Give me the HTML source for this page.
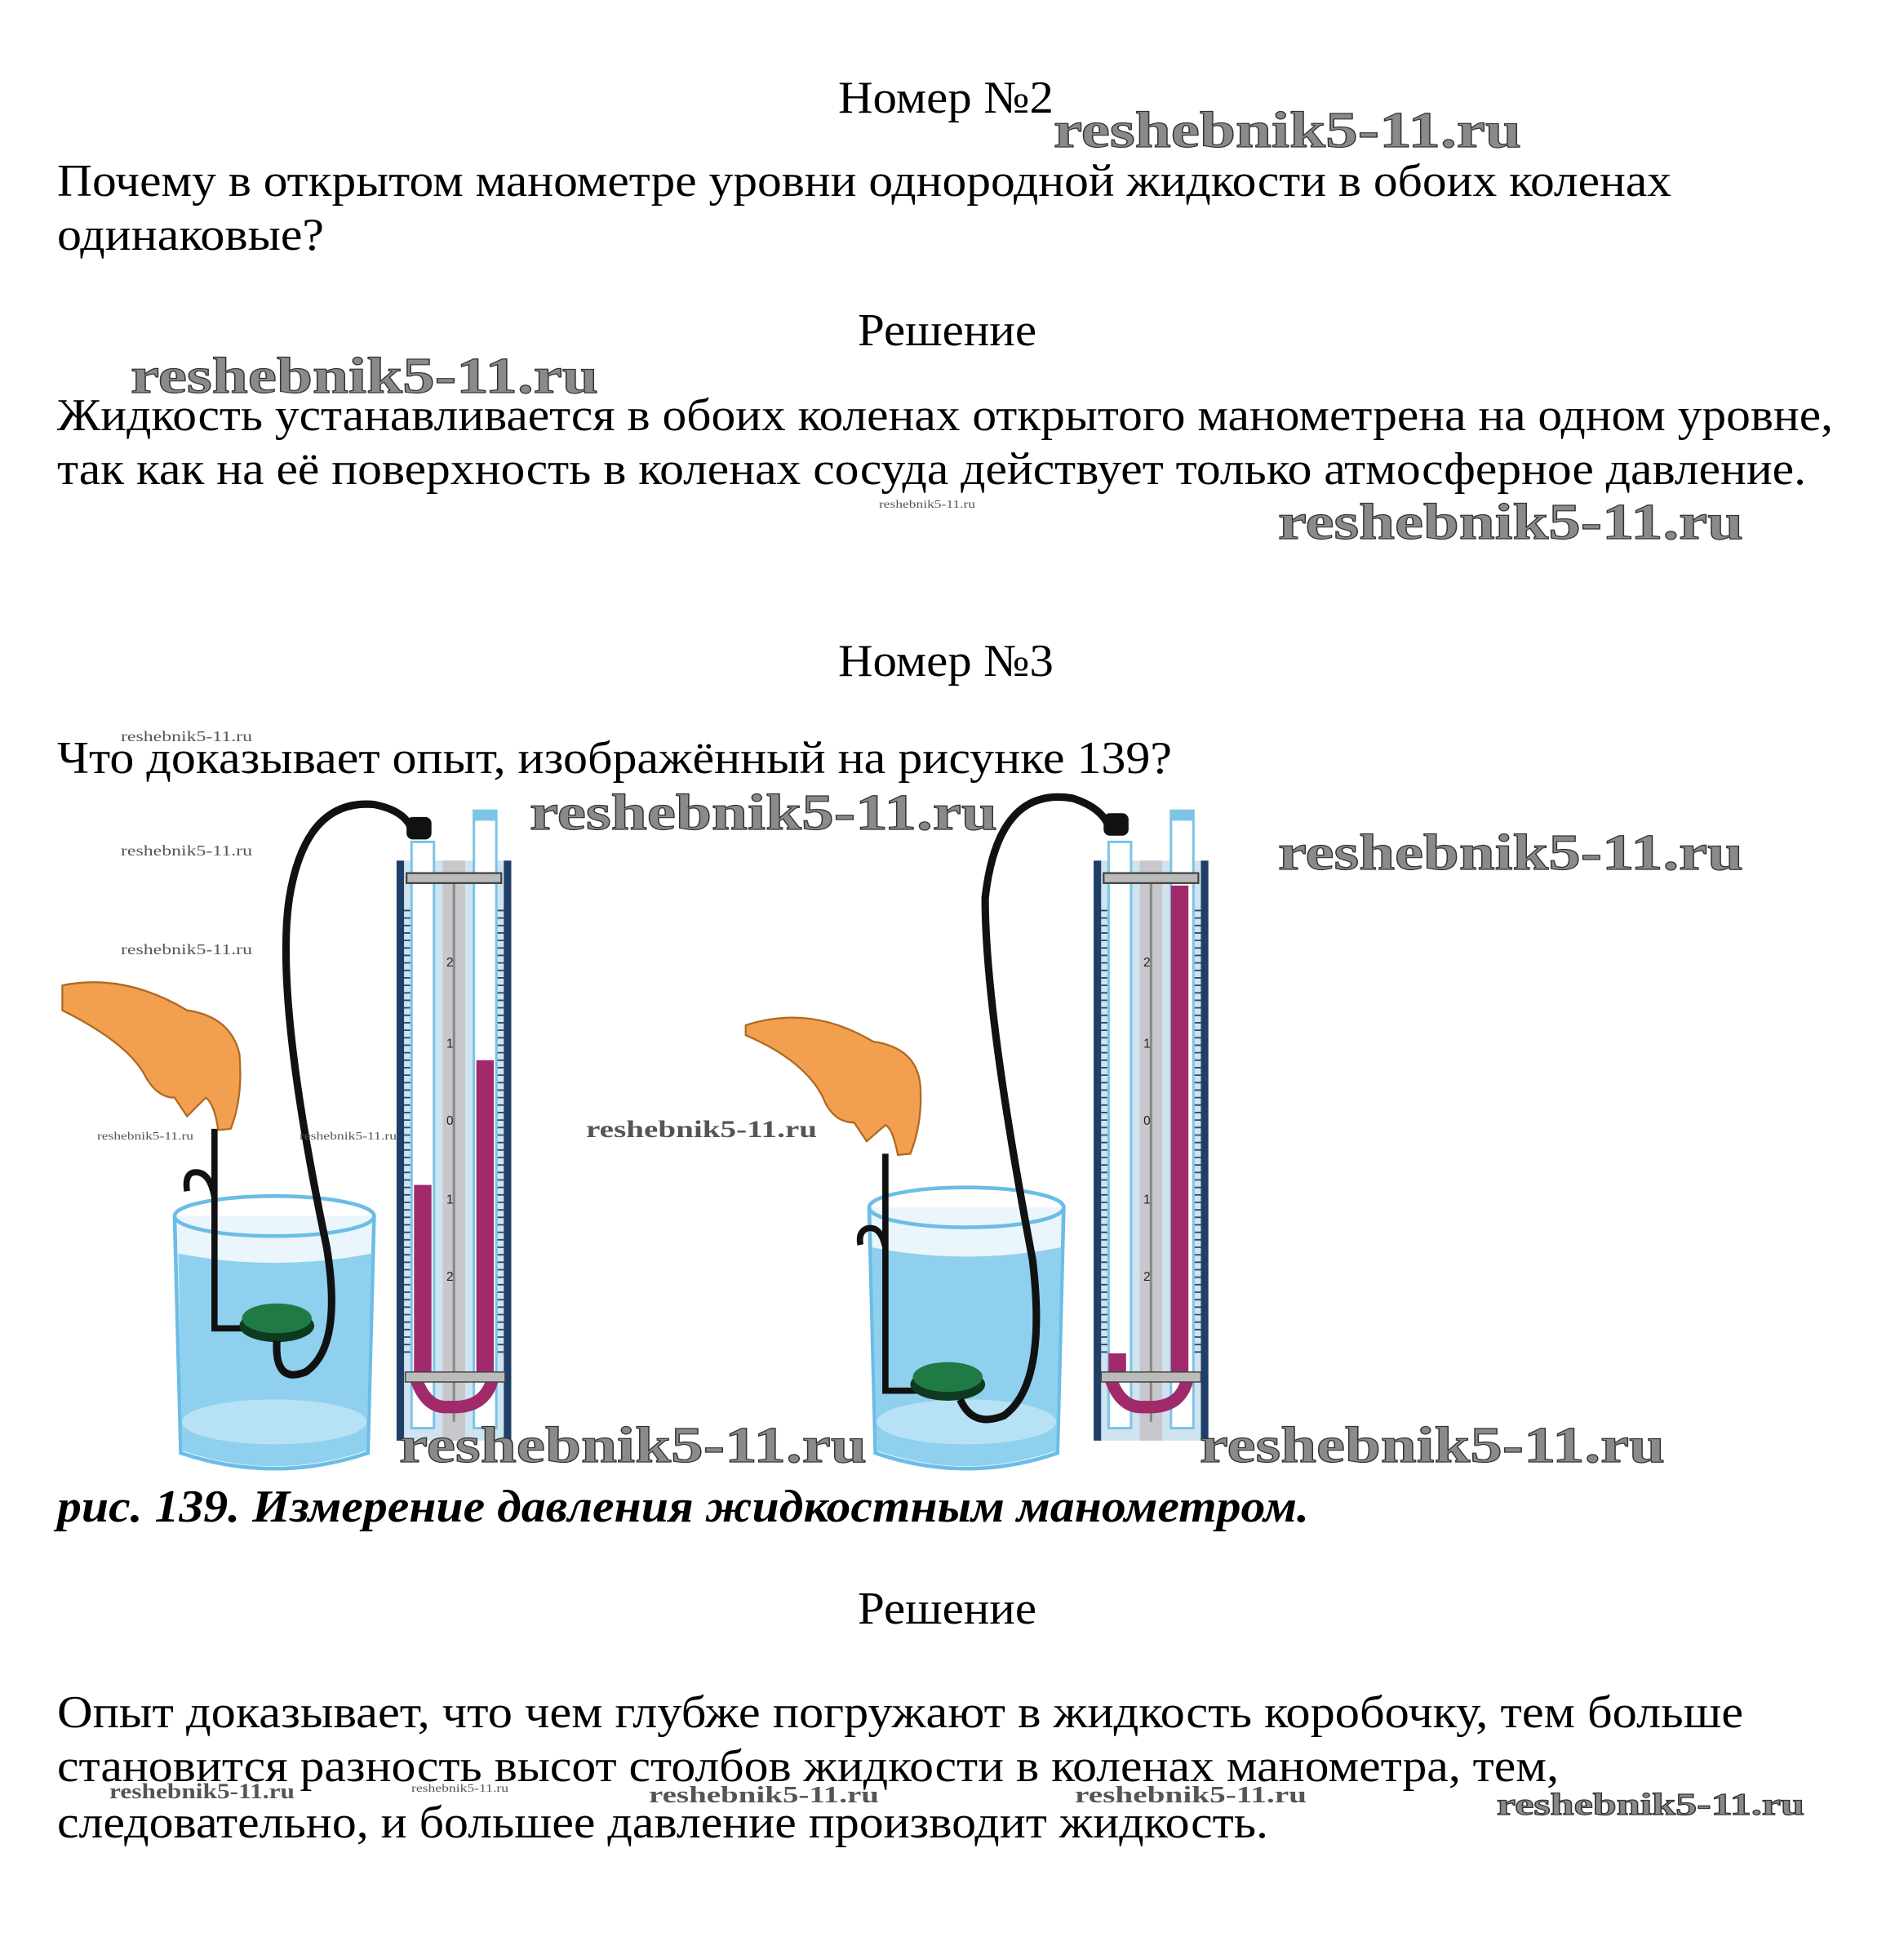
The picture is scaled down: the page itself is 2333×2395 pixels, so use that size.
<!DOCTYPE html>
<html><head><meta charset="utf-8"><style>
html,body{margin:0;padding:0;background:#fff;}
svg{display:block;}
.t{font-family:"Liberation Serif",serif;font-size:56px;fill:#000;}
.w{font-family:"Liberation Serif",serif;font-weight:bold;fill:#8a8a8a;stroke:#333;stroke-width:1.2;}
.ws{font-family:"Liberation Serif",serif;fill:#555;}
</style></head><body>
<svg width="2333" height="2395" viewBox="0 0 2333 2395" xmlns="http://www.w3.org/2000/svg">
<rect width="2333" height="2395" fill="#fff"/>
<!-- text -->
<text class="t" x="1027" y="138" textLength="264" lengthAdjust="spacingAndGlyphs">Номер №2</text>
<text class="t" x="70" y="240" textLength="1978" lengthAdjust="spacingAndGlyphs">Почему в открытом манометре уровни однородной жидкости в обоих коленах</text>
<text class="t" x="70" y="306" textLength="327" lengthAdjust="spacingAndGlyphs">одинаковые?</text>
<text class="t" x="1051" y="423" textLength="219" lengthAdjust="spacingAndGlyphs">Решение</text>
<text class="t" x="70" y="527" textLength="2176" lengthAdjust="spacingAndGlyphs">Жидкость устанавливается в обоих коленах открытого манометрена на одном уровне,</text>
<text class="t" x="70" y="593" textLength="2143" lengthAdjust="spacingAndGlyphs">так как на её поверхность в коленах сосуда действует только атмосферное давление.</text>
<text class="t" x="1027" y="828" textLength="264" lengthAdjust="spacingAndGlyphs">Номер №3</text>
<text class="t" x="70" y="947" textLength="1366" lengthAdjust="spacingAndGlyphs">Что доказывает опыт, изображённый на рисунке 139?</text>
<text class="t" x="70" y="1864" textLength="1534" lengthAdjust="spacingAndGlyphs" font-style="italic" font-weight="bold">рис. 139. Измерение давления жидкостным манометром.</text>
<text class="t" x="1051" y="1989" textLength="219" lengthAdjust="spacingAndGlyphs">Решение</text>
<text class="t" x="70" y="2116" textLength="2066" lengthAdjust="spacingAndGlyphs">Опыт доказывает, что чем глубже погружают в жидкость коробочку, тем больше</text>
<text class="t" x="70" y="2182" textLength="1840" lengthAdjust="spacingAndGlyphs">становится разность высот столбов жидкости в коленах манометра, тем,</text>
<text class="t" x="70" y="2251" textLength="1484" lengthAdjust="spacingAndGlyphs">следовательно, и большее давление производит жидкость.</text>

<!-- figure, drawn in display coords scaled -->
<g transform="scale(1.528)">
 <defs>
  <g id="mano">
   <!-- panel -->
   <rect x="0" y="20" width="92" height="465" fill="#cfe3f0"/>
   <rect x="0" y="20" width="6" height="465" fill="#1f3f66"/>
   <rect x="86" y="20" width="6" height="465" fill="#1f3f66"/>
   <rect x="37" y="20" width="18" height="465" fill="#c8c8cc"/>
   <line x1="46" y1="30" x2="46" y2="470" stroke="#888" stroke-width="2"/>
   <rect x="12" y="5" width="18" height="470" fill="#fff" stroke="#7cc4e6" stroke-width="2"/>
   <rect x="62" y="-20" width="18" height="495" fill="#fff" stroke="#7cc4e6" stroke-width="2"/>
   <rect x="62" y="-20" width="18" height="8" fill="#7cc4e6"/>
   <rect x="8" y="30" width="76" height="8" fill="#bbb" stroke="#444" stroke-width="1.5"/>
   <g stroke="#2a4a70" stroke-width="1.2">
    <path d="M6 60 h5 M6 66 h5 M6 72 h5 M6 78 h5 M6 84 h5 M6 90 h5 M6 96 h5 M6 102 h5 M6 108 h5 M6 114 h5 M6 120 h5 M6 126 h5 M6 132 h5 M6 138 h5 M6 144 h5 M6 150 h5 M6 156 h5 M6 162 h5 M6 168 h5 M6 174 h5 M6 180 h5 M6 186 h5 M6 192 h5 M6 198 h5 M6 204 h5 M6 210 h5 M6 216 h5 M6 222 h5 M6 228 h5 M6 234 h5 M6 240 h5 M6 246 h5 M6 252 h5 M6 258 h5 M6 264 h5 M6 270 h5 M6 276 h5 M6 282 h5 M6 288 h5 M6 294 h5 M6 300 h5 M6 306 h5 M6 312 h5 M6 318 h5 M6 324 h5 M6 330 h5 M6 336 h5 M6 342 h5 M6 348 h5 M6 354 h5 M6 360 h5 M6 366 h5 M6 372 h5 M6 378 h5 M6 384 h5 M6 390 h5 M6 396 h5 M6 402 h5 M6 408 h5 M6 414 h5"/>
    <path d="M81 60 h5 M81 66 h5 M81 72 h5 M81 78 h5 M81 84 h5 M81 90 h5 M81 96 h5 M81 102 h5 M81 108 h5 M81 114 h5 M81 120 h5 M81 126 h5 M81 132 h5 M81 138 h5 M81 144 h5 M81 150 h5 M81 156 h5 M81 162 h5 M81 168 h5 M81 174 h5 M81 180 h5 M81 186 h5 M81 192 h5 M81 198 h5 M81 204 h5 M81 210 h5 M81 216 h5 M81 222 h5 M81 228 h5 M81 234 h5 M81 240 h5 M81 246 h5 M81 252 h5 M81 258 h5 M81 264 h5 M81 270 h5 M81 276 h5 M81 282 h5 M81 288 h5 M81 294 h5 M81 300 h5 M81 306 h5 M81 312 h5 M81 318 h5 M81 324 h5 M81 330 h5 M81 336 h5 M81 342 h5 M81 348 h5 M81 354 h5 M81 360 h5 M81 366 h5 M81 372 h5 M81 378 h5 M81 384 h5 M81 390 h5 M81 396 h5 M81 402 h5 M81 408 h5 M81 414 h5"/>
   </g>
   <g font-family="Liberation Sans,sans-serif" font-size="10" fill="#222">
    <text x="40" y="105">2</text><text x="40" y="170">1</text><text x="40" y="232">0</text><text x="40" y="295">1</text><text x="40" y="357">2</text>
   </g>
  </g>
 </defs>

 <!-- LEFT SETUP -->
 <!-- beaker -->
 <path d="M140 975 L145 1165 Q220 1190 295 1165 L300 975" fill="#eaf6fc" stroke="#6bbde6" stroke-width="3"/>
 <path d="M143 1005 L146 1163 Q220 1188 294 1163 L298 1005 Q220 1020 143 1005Z" fill="#8fd0ee"/>
 <ellipse cx="220" cy="1140" rx="74" ry="18" fill="#b7e2f5"/>
 <ellipse cx="220" cy="975" rx="80" ry="16" fill="none" stroke="#6bbde6" stroke-width="3"/>
 <!-- hook tube -->
 <path d="M172 905 V1065 H200 M172 960 Q168 938 155 940 Q148 942 150 955" fill="none" stroke="#111" stroke-width="5"/>
 <!-- disc -->
 <ellipse cx="222" cy="1063" rx="30" ry="13" fill="#0e3a20"/>
 <ellipse cx="222" cy="1057" rx="28" ry="12" fill="#1f7a45"/>
 <!-- hose -->
 <path d="M222 1075 Q220 1110 245 1100 Q275 1080 262 1000 Q220 800 232 720 Q245 640 300 645 Q325 650 330 665" fill="none" stroke="#111" stroke-width="6"/>
 <rect x="326" y="655" width="20" height="18" rx="5" fill="#111"/>
 <use href="#mano" transform="translate(318,670)"/>
 <rect x="332" y="950" width="14" height="150" fill="#a02a6a"/>
 <rect x="382" y="850" width="14" height="250" fill="#a02a6a"/>
 <path d="M332 1100 Q340 1130 360 1128 Q392 1130 396 1100" fill="none" stroke="#a02a6a" stroke-width="10"/>
 <rect x="325" y="1100" width="80" height="8" fill="#bbb" stroke="#444" stroke-width="1"/>
 <!-- hand -->
 <path d="M50 790 Q100 780 150 810 Q185 815 192 845 Q195 880 185 905 L175 906 Q172 885 165 880 L150 895 L140 880 Q125 880 115 860 Q100 835 50 810Z" fill="#f2a050" stroke="#b06a20" stroke-width="1.5"/>

 <!-- RIGHT SETUP -->
 <path d="M697 968 L702 1165 Q775 1190 848 1165 L853 968" fill="#eaf6fc" stroke="#6bbde6" stroke-width="3"/>
 <path d="M699 1000 L703 1163 Q775 1188 847 1163 L851 1000 Q775 1015 699 1000Z" fill="#8fd0ee"/>
 <ellipse cx="775" cy="1140" rx="72" ry="18" fill="#b7e2f5"/>
 <ellipse cx="775" cy="968" rx="78" ry="16" fill="none" stroke="#6bbde6" stroke-width="3"/>
 <path d="M710 925 V1115 H735 M710 1000 Q706 982 695 985 Q688 988 690 998" fill="none" stroke="#111" stroke-width="5"/>
 <ellipse cx="760" cy="1110" rx="30" ry="13" fill="#0e3a20"/>
 <ellipse cx="760" cy="1104" rx="28" ry="12" fill="#1f7a45"/>
 <path d="M770 1122 Q780 1145 805 1135 Q840 1110 828 1010 Q790 810 790 720 Q800 630 860 640 Q885 648 890 665" fill="none" stroke="#111" stroke-width="6"/>
 <rect x="885" y="652" width="20" height="18" rx="5" fill="#111"/>
 <use href="#mano" transform="translate(877,670)"/>
 <rect x="889" y="1085" width="14" height="15" fill="#a02a6a"/>
 <rect x="939" y="710" width="14" height="390" fill="#a02a6a"/>
 <path d="M889 1100 Q897 1130 918 1128 Q950 1130 953 1100" fill="none" stroke="#a02a6a" stroke-width="10"/>
 <rect x="883" y="1100" width="80" height="8" fill="#bbb" stroke="#444" stroke-width="1"/>
 <path d="M598 822 Q650 805 700 835 Q735 840 738 870 Q740 900 730 925 L720 926 Q716 905 710 902 L695 915 L685 900 Q668 900 660 880 Q645 850 598 830Z" fill="#f2a050" stroke="#b06a20" stroke-width="1.5"/>
</g>

<!-- watermarks -->
<g class="w" font-size="62">
<text x="1291" y="180" textLength="573" lengthAdjust="spacingAndGlyphs">reshebnik5-11.ru</text>
<text x="160" y="481" textLength="573" lengthAdjust="spacingAndGlyphs">reshebnik5-11.ru</text>
<text x="1566" y="660" textLength="570" lengthAdjust="spacingAndGlyphs">reshebnik5-11.ru</text>
<text x="649" y="1016" textLength="573" lengthAdjust="spacingAndGlyphs">reshebnik5-11.ru</text>
<text x="1566" y="1065" textLength="570" lengthAdjust="spacingAndGlyphs">reshebnik5-11.ru</text>
<text x="489" y="1791" textLength="573" lengthAdjust="spacingAndGlyphs">reshebnik5-11.ru</text>
<text x="1470" y="1791" textLength="570" lengthAdjust="spacingAndGlyphs">reshebnik5-11.ru</text>
</g>
<g class="w" font-size="38" stroke-width="0.8">
<text x="1834" y="2223" textLength="377" lengthAdjust="spacingAndGlyphs">reshebnik5-11.ru</text>
</g>
<g class="ws">
<text x="1077" y="622" font-size="14" textLength="118" lengthAdjust="spacingAndGlyphs">reshebnik5-11.ru</text>
<text x="148" y="908" font-size="18" textLength="161" lengthAdjust="spacingAndGlyphs">reshebnik5-11.ru</text>
<text x="148" y="1048" font-size="18" textLength="161" lengthAdjust="spacingAndGlyphs">reshebnik5-11.ru</text>
<text x="148" y="1169" font-size="18" textLength="161" lengthAdjust="spacingAndGlyphs">reshebnik5-11.ru</text>
<text x="119" y="1396" font-size="14" textLength="118" lengthAdjust="spacingAndGlyphs">reshebnik5-11.ru</text>
<text x="367" y="1396" font-size="14" textLength="119" lengthAdjust="spacingAndGlyphs">reshebnik5-11.ru</text>
<text x="718" y="1393" font-size="30" font-weight="bold" textLength="283" lengthAdjust="spacingAndGlyphs">reshebnik5-11.ru</text>
<text x="134" y="2203" font-size="26" font-weight="bold" textLength="227" lengthAdjust="spacingAndGlyphs">reshebnik5-11.ru</text>
<text x="504" y="2195" font-size="14" textLength="119" lengthAdjust="spacingAndGlyphs">reshebnik5-11.ru</text>
<text x="795" y="2208" font-size="28" font-weight="bold" textLength="282" lengthAdjust="spacingAndGlyphs">reshebnik5-11.ru</text>
<text x="1317" y="2208" font-size="28" font-weight="bold" textLength="284" lengthAdjust="spacingAndGlyphs">reshebnik5-11.ru</text>
</g>
</svg>
</body></html>
